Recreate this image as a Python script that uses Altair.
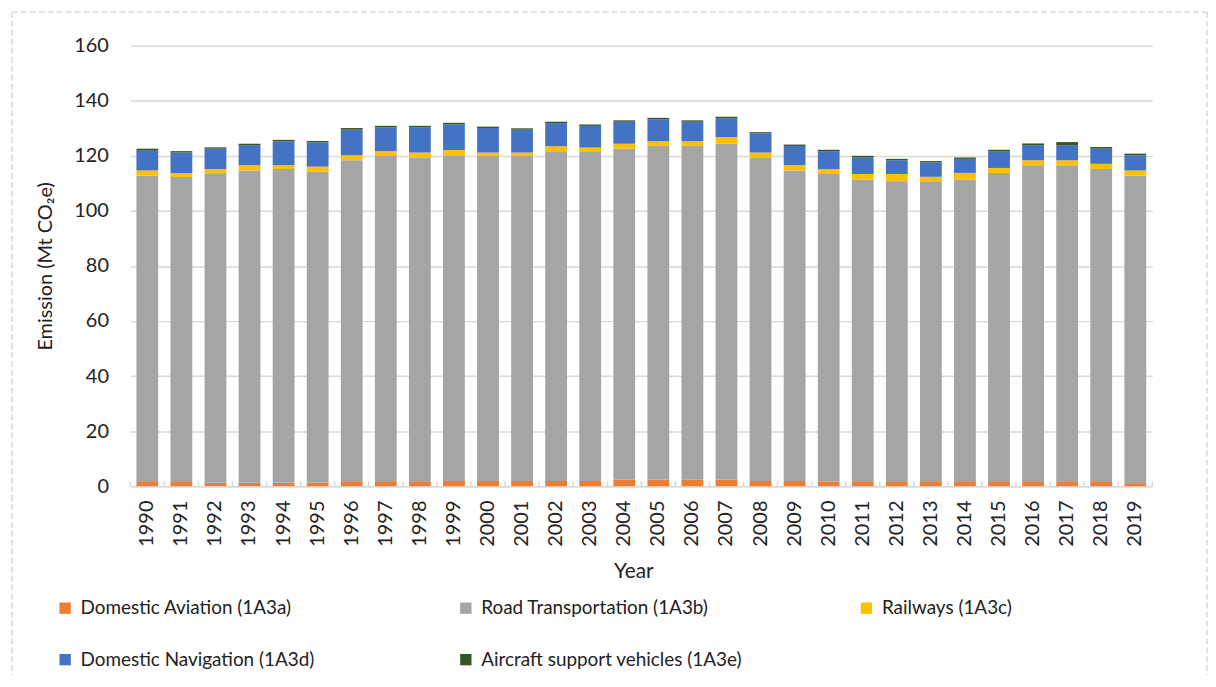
import altair as alt
import pandas as pd

years = [str(y) for y in range(1990, 2020)]

aviation = [1.5, 1.5, 1.2, 1.2, 1.2, 1.2, 1.5, 1.5, 1.5, 1.9,
            1.9, 1.9, 1.9, 1.9, 2.3, 2.3, 2.3, 2.3, 1.9, 1.9,
            1.6, 1.5, 1.5, 1.5, 1.5, 1.5, 1.5, 1.5, 1.5, 1.1]
road = [111.4, 110.8, 112.5, 113.5, 114.0, 113.0, 116.9, 118.4, 117.9, 118.3,
        118.0, 118.0, 119.8, 119.8, 120.3, 121.3, 121.3, 122.1, 117.5, 112.8,
        111.8, 109.9, 109.3, 109.0, 109.9, 112.3, 115.1, 115.1, 113.7, 111.8]
rail = [1.8, 1.4, 1.5, 1.9, 1.4, 1.9, 1.8, 1.8, 1.8, 1.9,
        1.3, 1.3, 1.8, 1.3, 1.8, 1.7, 1.7, 2.4, 1.8, 1.9,
        1.8, 2.0, 2.6, 1.9, 2.4, 1.8, 1.8, 1.8, 1.9, 1.8]
navigation = [7.4, 7.5, 7.4, 7.3, 8.7, 8.8, 9.3, 8.6, 9.1, 9.3,
              8.9, 8.3, 8.4, 7.9, 8.0, 8.0, 7.1, 6.9, 7.0, 7.0,
              6.5, 6.0, 5.0, 5.2, 5.1, 6.1, 5.5, 5.5, 5.5, 5.5]
support = [0.5, 0.5, 0.5, 0.5, 0.5, 0.5, 0.6, 0.6, 0.6, 0.6,
           0.5, 0.5, 0.5, 0.5, 0.5, 0.5, 0.5, 0.5, 0.4, 0.5,
           0.5, 0.6, 0.5, 0.5, 0.5, 0.5, 0.6, 1.1, 0.6, 0.6]

series_names = ["Domestic Aviation (1A3a)", "Road Transportation (1A3b)", "Railways (1A3c)",
                "Domestic Navigation (1A3d)", "Aircraft support vehicles (1A3e)"]
series_colors = ["#ED7D31", "#A5A5A5", "#FFC000", "#4472C4", "#375623"]

series_values = [aviation, road, rail, navigation, support]
rows = []
for i, yr in enumerate(years):
    for k, name in enumerate(series_names):
        rows.append({"Year": yr, "Series": name, "Value": series_values[k][i], "Order": k})
df = pd.DataFrame(rows)
df_years = pd.DataFrame({"Year": years})

W, H = 1028, 443
STEP = W / len(years)
FONT = "Lato"
TXT = "#222222"
GRID = "#d9d9d9"

xscale = alt.Scale(domain=years, paddingInner=0.36, paddingOuter=0.18)

bars = alt.Chart(df).mark_bar().encode(
    x=alt.X("Year:N", sort=years, scale=xscale,
            axis=alt.Axis(title="Year", labelAngle=-90, labelAlign="right", labelBaseline="middle",
                          labelPadding=14, ticks=False, tickSize=0, domainColor=GRID, domainWidth=1.5,
                          grid=False, titlePadding=14, titleX=W / 2 - 8, labelFontSize=20,
                          titleFontSize=21, labelFont=FONT, titleFont=FONT, labelColor=TXT,
                          titleColor=TXT, titleFontWeight="normal")),
    y=alt.Y("Value:Q", stack="zero", scale=alt.Scale(domain=[0, 160], nice=False),
            axis=alt.Axis(values=list(range(0, 161, 20)), title="Emission (Mt CO₂e)", grid=True,
                          gridColor=GRID, gridWidth=1.5, domain=False, ticks=False, tickSize=0,
                          labelPadding=22, titlePadding=18, labelFontSize=20, titleFontSize=20,
                          labelFont=FONT, titleFont=FONT, labelColor=TXT, titleColor=TXT,
                          titleFontWeight="normal")),
    color=alt.Color("Series:N", sort=series_names,
                    scale=alt.Scale(domain=series_names, range=series_colors),
                    legend=alt.Legend(orient="none", legendX=-75, legendY=556, columns=3,
                                      direction="horizontal", gridAlign="all", columnPadding=115,
                                      rowPadding=32, symbolType="square", symbolSize=130,
                                      symbolStrokeWidth=0, symbolOpacity=1, labelFontSize=19,
                                      labelFont=FONT, labelColor=TXT, labelOffset=6,
                                      labelLimit=500, title=None)),
    order=alt.Order("Order:Q", sort="ascending"),
)

# small category-boundary ticks pointing up into the plot
cat_ticks = alt.Chart(df_years).mark_rule(color=GRID, strokeWidth=1.5, xOffset=-STEP / 2).encode(
    x=alt.X("Year:N", sort=years, scale=xscale),
    y=alt.value(H - 5), y2=alt.value(H),
)
end_tick = alt.Chart(alt.Data(values=[{"a": 1}])).mark_rule(color=GRID, strokeWidth=1.5).encode(
    x=alt.value(W), y=alt.value(H - 5), y2=alt.value(H)
)

border = alt.Chart(alt.Data(values=[{"a": 1}])).mark_rule(
    stroke=GRID, strokeWidth=1.5, strokeDash=[6, 3]
)
top_line = border.encode(x=alt.value(-119), x2=alt.value(W + 55), y=alt.value(-34))
left_line = border.encode(x=alt.value(-119), y=alt.value(-34), y2=alt.value(H + 190))
right_line = border.encode(x=alt.value(W + 55), y=alt.value(-34), y2=alt.value(H + 190))

chart = alt.layer(bars, cat_ticks, end_tick, top_line, left_line, right_line).properties(
    width=W, height=H, background="white",
    padding={"left": 3, "top": 1, "right": 0, "bottom": 0},
).configure_view(stroke=None)

chart.save("out.html", embed_options={"renderer": "svg", "actions": False})
